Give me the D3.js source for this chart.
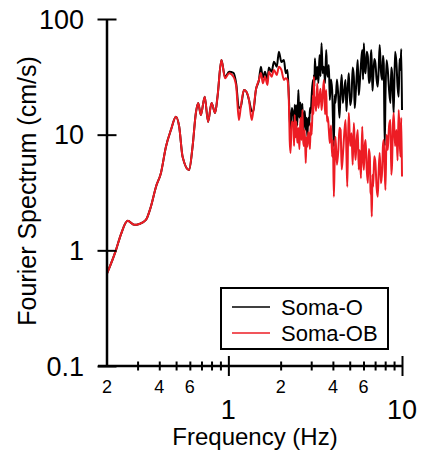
<!DOCTYPE html>
<html lang="en">
<head>
  <meta charset="UTF-8" />
  <title>Fourier Spectrum</title>
  <script src="https://d3js.org/d3.v7.min.js"></script>
  <style>
    body {
      margin: 0;
      background: #fff;
    }
    text {
      font-family: "Liberation Sans", Arial, sans-serif;
      fill: #000;
    }
    .line {
      fill: none;
      stroke-width: 2;
      stroke-linejoin: round;
    }
  </style>
</head>
<body>
<svg width="424" height="452"></svg>

<script>
  // frequencies (Hz) and spectral amplitudes (cm/s)
  const freq = [
    0.2, 0.225, 0.24, 0.263, 0.287, 0.307, 0.335, 0.358, 0.383, 0.409,
    0.437, 0.467, 0.499, 0.521, 0.545, 0.594, 0.622, 0.65, 0.67, 0.694,
    0.731, 0.764, 0.8, 0.839, 0.866, 0.912, 0.957, 1.01, 1.07, 1.11,
    1.15, 1.18, 1.23, 1.27, 1.315, 1.363, 1.39, 1.44, 1.5, 1.54,
    1.58, 1.625, 1.68, 1.71, 1.775, 1.83, 1.9, 1.955, 2.02, 2.09,
    2.14, 2.19,
    2.23, 2.255, 2.28, 2.32, 2.37, 2.39, 2.41, 2.435, 2.46, 2.495,
    2.53, 2.565, 2.6, 2.635, 2.67, 2.695, 2.72, 2.755, 2.79, 2.82,
    2.85, 2.885, 2.92, 2.95, 2.98, 3.02, 3.07, 3.09, 3.11, 3.13,
    3.15, 3.2, 3.25, 3.3, 3.35, 3.395, 3.44, 3.495, 3.55, 3.605,
    3.66, 3.7, 3.74, 3.79, 3.84, 3.9, 3.96, 4.0, 4.05, 4.095,
    4.14, 4.22, 4.3, 4.365, 4.43, 4.495, 4.56, 4.645, 4.73, 4.785,
    4.84, 4.89, 4.94, 5.03, 5.12, 5.2, 5.28, 5.34, 5.4, 5.48,
    5.56, 5.635, 5.71, 5.8, 5.9, 5.965, 6.03, 6.1, 6.17, 6.265,
    6.36, 6.445, 6.53, 6.59, 6.65, 6.7, 6.76, 6.82, 6.925, 7.03,
    7.14, 7.25, 7.345, 7.44, 7.565, 7.69, 7.77, 7.85, 7.95, 8.03,
    8.15, 8.28, 8.43, 8.58, 8.675, 8.77, 8.865, 8.96, 9.12, 9.29,
    9.43, 9.57, 9.68, 9.79, 9.9, 10.0
  ];
  const somaO = [
    0.63, 1.0, 1.36, 1.8, 1.66, 1.69, 1.83, 2.39, 3.55, 4.67,
    7.87, 11.0, 14.3, 11.7, 6.45, 4.95, 7.87, 15.4, 18.8, 14.8,
    21.3, 12.9, 18.8, 15.4, 21.3, 44.2, 31.5, 35.0, 34.2, 27.5,
    16.9, 17.5, 24.3, 23.5, 19.95, 16.0, 15.8, 24.3, 29.7, 38.7,
    31.0, 35.0, 29.7, 38.0, 35.0, 42.7, 38.7, 52.2, 42.5, 44.2,
    33.9, 36.3,
    21.3, 14.0, 11.0, 17.0, 14.3, 10.0, 18.1, 13.0, 18.0, 12.0,
    24.3, 14.0, 19.0, 13.0, 18.5, 10.5, 12.6, 16.0, 11.0, 14.0,
    9.6, 14.0, 12.0, 17.0, 15.4, 22.0, 29.7, 20.0, 33.0, 26.0,
    45.7, 30.0, 38.7, 28.0, 48.9, 32.0, 61.7, 34.0, 38.7, 28.0,
    54.0, 36.0, 31.7, 40.0, 19.95, 30.0, 24.3, 14.0, 7.87, 22.0,
    18.8, 30.0, 21.3, 14.0, 24.3, 33.0, 18.8, 24.0, 29.7, 16.0,
    22.0, 28.0, 33.9, 18.0, 21.3, 38.0, 31.7, 17.0, 21.3, 32.0,
    44.2, 22.0, 27.8, 40.0, 54.0, 30.0, 61.7, 38.0, 33.9, 52.0,
    47.2, 28.0, 29.7, 44.0, 54.0, 40.0, 24.0, 29.7, 45.0, 41.4,
    30.0, 26.0, 38.0, 59.6, 35.0, 29.7, 48.0, 41.4, 8.0, 21.3,
    44.0, 36.3, 24.0, 18.8, 38.0, 33.9, 22.0, 15.4, 52.0, 41.4,
    26.0, 21.3, 45.0, 36.3, 55.0, 16.35
  ];
  const somaOB = [
    0.63, 1.0, 1.36, 1.8, 1.66, 1.69, 1.83, 2.39, 3.55, 4.67,
    7.87, 11.0, 14.3, 11.7, 6.45, 4.95, 7.87, 15.4, 18.8, 14.8,
    21.3, 12.9, 18.8, 15.4, 21.3, 44.2, 30.7, 33.9, 31.7, 26.0,
    13.4, 17.5, 24.3, 23.5, 19.95, 13.4, 15.8, 24.3, 29.7, 34.2,
    27.8, 31.7, 26.9, 35.0, 31.7, 36.3, 32.8, 38.7, 36.3, 29.7,
    30.8, 29.7,
    20.0, 9.0, 6.95, 13.0, 12.1, 8.0, 14.8, 9.5, 13.0, 8.5,
    11.4, 7.5, 14.0, 9.0, 16.35, 9.0, 8.0, 11.0, 5.69, 9.5,
    7.87, 10.5, 9.5, 7.5, 12.6, 10.0, 22.0, 15.0, 31.7, 18.0,
    21.3, 16.0, 27.8, 17.0, 21.3, 25.0, 16.35, 22.0, 29.7, 15.0,
    24.3, 13.0, 14.3, 11.0, 8.48, 12.0, 6.45, 9.0, 2.91, 6.0,
    9.6, 5.5, 7.38, 11.5, 11.0, 5.0, 6.45, 10.0, 13.4, 7.0,
    3.55, 9.0, 15.4, 8.0, 10.3, 5.5, 12.6, 8.5, 6.04, 9.0,
    11.0, 5.0, 7.38, 4.2, 11.7, 6.5, 4.95, 8.0, 9.0, 5.0,
    3.82, 7.5, 6.45, 3.2, 3.0, 1.96, 4.5, 3.55, 6.5, 5.69,
    3.5, 2.91, 5.0, 6.95, 3.8, 4.95, 8.0, 9.0, 5.0, 3.33,
    10.0, 7.38, 12.0, 13.4, 4.5, 5.69, 12.0, 15.4, 8.0, 11.0,
    6.0, 16.35, 10.0, 6.45, 14.0, 4.34
  ];
  const seriesNames = ["Soma-O", "Soma-OB"];
  const seriesColors = ["#000000", "#ed1c24"];

  const yTicks = [0.1, 1, 10, 100];
  const yTickLabels = ["0.1", "1", "10", "100"];
  const xMinorTicks = [0.3, 0.4, 0.5, 0.6, 0.7, 0.8, 0.9, 2, 3, 4, 5, 6, 7, 8, 9];
  const xMajorTicks = [1, 10];
  const xSmallLabels = [0.2, 0.4, 0.6, 2, 4, 6];
  const xBigLabels = [1, 10];

  const svg = d3.select("svg");

  const x = d3.scaleLog().domain([0.2, 10]).range([107, 402]);
  const y = d3.scaleLog().domain([0.1, 100]).range([366, 19]);

  // series (red drawn on top)
  const line = d3.line()
    .curve(d3.curveMonotoneX)
    .x(d => x(d[0]))
    .y(d => y(d[1]));

  [somaO, somaOB].forEach((vals, i) => {
    svg.append("path")
      .datum(freq.map((f, j) => [f, vals[j]]))
      .attr("class", "line")
      .attr("stroke", seriesColors[i])
      .attr("d", line);
  });

  // x axis
  const xAxis = svg.append("g")
    .attr("transform", "translate(0,366)")
    .call(d3.axisBottom(x).tickValues(xMinorTicks.concat(xMajorTicks)).tickFormat(""));
  xAxis.select(".domain").attr("stroke-width", 2.5).attr("d", "M98,0H402");
  xAxis.selectAll(".tick line")
    .attr("stroke-width", 2)
    .attr("y1", d => xMajorTicks.includes(d) ? -10 : -4.5)
    .attr("y2", d => xMajorTicks.includes(d) ? 10 : 4.5);

  svg.append("g").selectAll("text")
    .data(xSmallLabels)
    .join("text")
    .attr("x", d => x(d))
    .attr("y", 393)
    .attr("text-anchor", "middle")
    .attr("font-size", 18)
    .text(d => d < 1 ? Math.round(d * 10) : d);

  svg.append("g").selectAll("text")
    .data(xBigLabels)
    .join("text")
    .attr("x", d => x(d))
    .attr("y", 419)
    .attr("text-anchor", "middle")
    .attr("font-size", 27)
    .text(d => d);

  // y axis
  const yAxis = svg.append("g")
    .attr("transform", "translate(107,0)")
    .call(d3.axisLeft(y).tickValues(yTicks).tickFormat(""));
  yAxis.select(".domain").attr("stroke-width", 2.5).attr("d", "M0,19V366");
  yAxis.selectAll(".tick line")
    .attr("stroke-width", 2)
    .attr("x1", -9.5)
    .attr("x2", 9.5);

  svg.append("g").selectAll("text")
    .data(yTicks)
    .join("text")
    .attr("x", 84)
    .attr("y", d => y(d))
    .attr("dy", "0.36em")
    .attr("text-anchor", "end")
    .attr("font-size", 27)
    .text((d, i) => yTickLabels[i]);

  // axis titles
  svg.append("text")
    .attr("x", 255)
    .attr("y", 445)
    .attr("text-anchor", "middle")
    .attr("font-size", 24)
    .text("Frequency (Hz)");

  svg.append("text")
    .attr("transform", "translate(36,191) rotate(-90)")
    .attr("text-anchor", "middle")
    .attr("font-size", 25)
    .text("Fourier Spectrum (cm/s)");

  // legend
  const legend = svg.append("g");
  legend.append("rect")
    .attr("x", 221).attr("y", 288)
    .attr("width", 167).attr("height", 61)
    .attr("fill", "#fff")
    .attr("stroke", "#000")
    .attr("stroke-width", 2);

  seriesNames.forEach((name, i) => {
    const ly = 307 + i * 26;
    legend.append("line")
      .attr("x1", 232).attr("x2", 270)
      .attr("y1", ly).attr("y2", ly)
      .attr("stroke", seriesColors[i])
      .attr("stroke-width", 1.5);
    legend.append("text")
      .attr("x", 281)
      .attr("y", ly + 8)
      .attr("font-size", 22)
      .text(name);
  });
</script>

</body>
</html>
